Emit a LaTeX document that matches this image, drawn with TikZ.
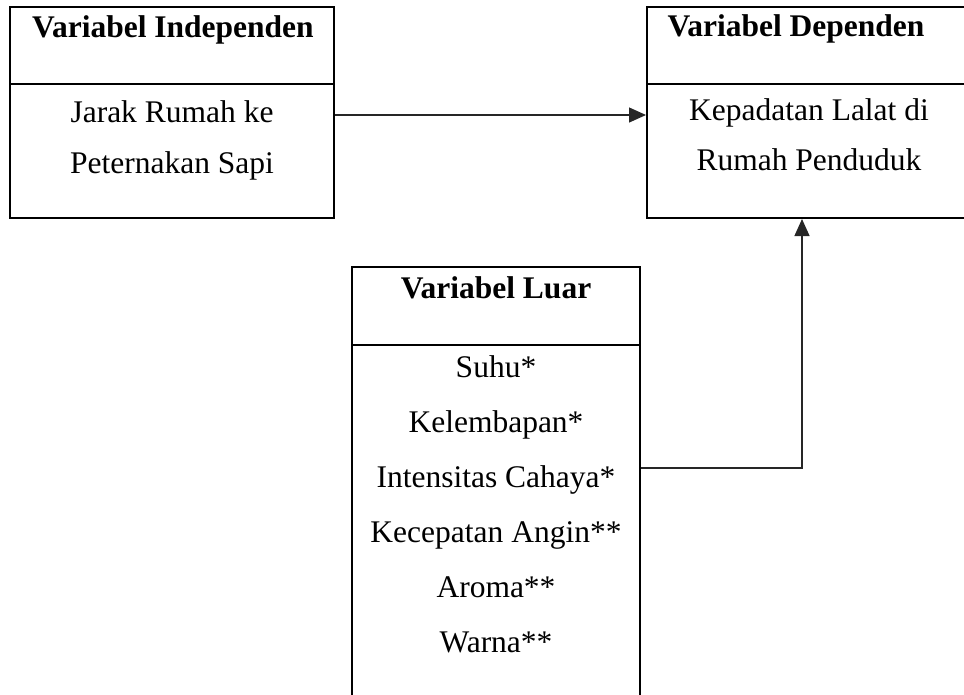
\documentclass[tikz,border=0pt]{standalone}
\usepackage{fontspec}
\setmainfont{Liberation Serif}
\usetikzlibrary{arrows.meta}
\begin{document}
\begin{tikzpicture}[x=1pt,y=-1pt,
  box/.style={draw=black,line width=2pt,rectangle,inner sep=0pt},
  txt/.style={anchor=base,inner sep=0pt,font=\fontsize{31.5}{36}\selectfont},
  ttl/.style={txt,font=\fontsize{31.5}{36}\selectfont\bfseries},
  conn/.style={line width=1.3pt,draw=black!85,-{Triangle[length=17pt,width=15pt]}}]
\useasboundingbox (0,0) rectangle (964,694);
\clip (0,0) rectangle (964,694);
% boxes
\node[box,minimum width=324pt,minimum height=211pt] (b1) at (172,112.5) {};
\node[box,minimum width=324pt,minimum height=211pt] (b2) at (809,112.5) {};
\node[box,minimum width=288pt,minimum height=463pt] (b3) at (496,498.5) {};
% dividers
\draw[line width=2pt] (b1.west |- 0,84) -- (b1.east |- 0,84);
\draw[line width=2pt] (b2.west |- 0,84) -- (b2.east |- 0,84);
\draw[line width=2pt] (b3.west |- 0,345) -- (b3.east |- 0,345);
% titles
\node[ttl] (t1) at (173,37) {Variabel Independen};
\node[ttl] (t2) at (796,36) {Variabel Dependen};
\node[ttl] (t3) at (496,298) {Variabel Luar};
% box 1 body
\node[txt] (a1) at (172,122) {Jarak Rumah ke};
\node[txt] (a2) at (172,173) {Peternakan Sapi};
% box 2 body
\node[txt] (d1) at (809,120) {Kepadatan Lalat di};
\node[txt] (d2) at (809,170) {Rumah Penduduk};
% box 3 body
\node[txt] (l1) at (496,377) {Suhu*};
\node[txt] (l2) at (496,432) {Kelembapan*};
\node[txt] (l3) at (496,487) {Intensitas Cahaya*};
\node[txt] (l4) at (496,542) {Kecepatan Angin**};
\node[txt] (l5) at (496,597) {Aroma**};
\node[txt] (l6) at (496,652) {Warna**};
% connectors
\draw[conn] ([yshift=-2.5pt]b1.east) -- ([yshift=-2.5pt]b2.west);
\coordinate (j) at (802,468);
\draw[conn] (b3.east |- j) -- (j) -- (j |- b2.south);
\end{tikzpicture}
\end{document}
